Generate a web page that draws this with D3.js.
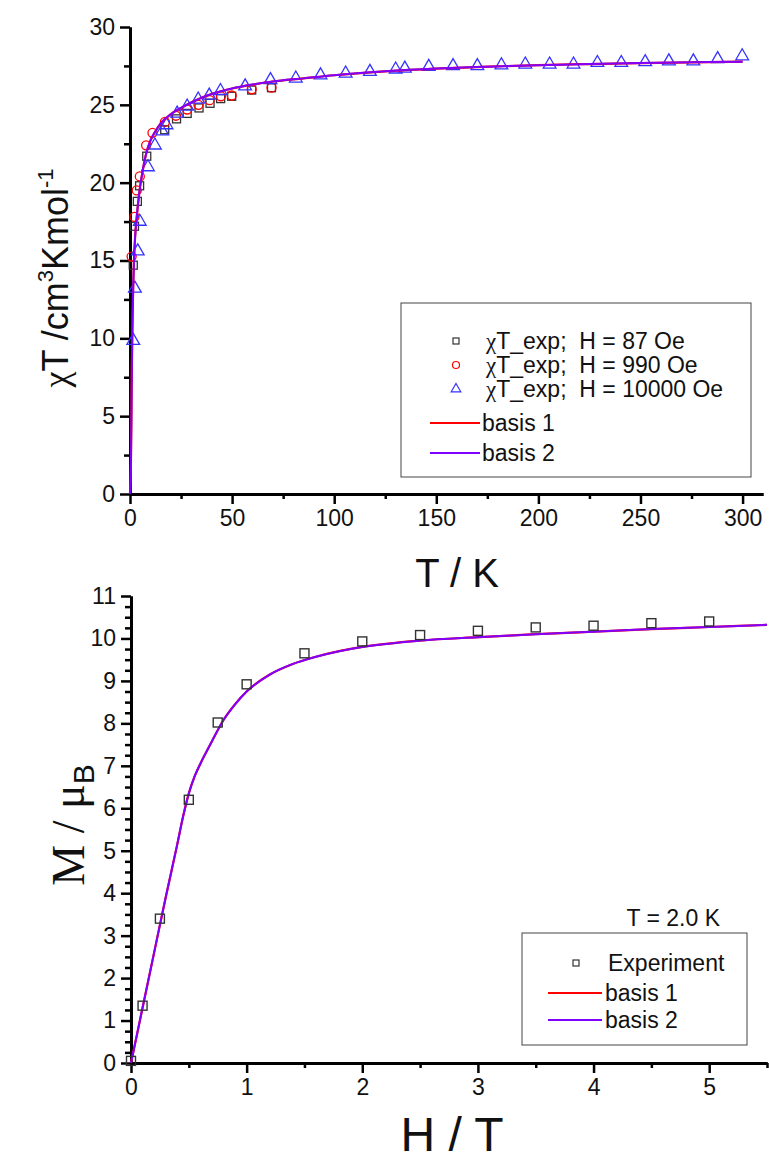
<!DOCTYPE html>
<html>
<head>
<meta charset="utf-8">
<script src="https://cdn.jsdelivr.net/npm/d3@7/dist/d3.min.js"></script>
<style>
  html, body { margin: 0; padding: 0; background: #fff; overflow: hidden; }
  svg { display: block; }
  text { font-family: "Liberation Sans", Arial, sans-serif; fill: #111; }
</style>
</head>
<body>
<svg id="chart" width="769" height="1164"></svg>
<script>
// ---- χT vs T data (T in K, χT in cm3 K mol-1) ----
const chiT87 = [
  [1.6, 14.7], [2.2, 17.2], [3.6, 18.8], [4.7, 19.8], [8.2, 21.7], [17, 23.4],
  [22.8, 24.1], [28, 24.45], [33.8, 24.8], [39.2, 25.1], [44.4, 25.4],
  [49.8, 25.55], [59.6, 25.95], [69.3, 26.1]
];
const chiT990 = [
  [0.8, 15.25], [2.2, 17.8], [3.3, 19.5], [4.8, 20.4], [7.9, 22.4], [11, 23.2],
  [17.1, 23.9], [22.5, 24.3], [28, 24.7], [33.5, 25.0], [39, 25.3], [44.5, 25.55],
  [49.8, 25.6], [59.6, 26.0], [69.3, 26.1]
];
const chiT10000 = [
  [1.6, 9.85], [2.4, 13.2], [3.8, 15.6], [4.8, 17.5], [8.8, 21.0], [12.2, 22.4],
  [15.8, 23.3], [17.9, 23.7], [23.1, 24.45], [28, 24.9], [33.4, 25.35], [38.8, 25.6],
  [44.3, 25.9], [56.4, 26.2], [68.8, 26.6], [81.2, 26.7], [93.3, 26.9], [105.6, 27.02],
  [117.5, 27.13], [130.1, 27.28], [134.6, 27.34], [146.3, 27.45], [158.2, 27.5],
  [170.1, 27.5], [181.9, 27.55], [193.6, 27.6], [205.5, 27.6], [217.2, 27.6],
  [228.9, 27.7], [240.6, 27.7], [252.3, 27.75], [263.9, 27.8], [275.9, 27.8],
  [287.8, 27.95], [299.8, 28.13]
];
const chiTBasis1 = [
  [0, 0], [0.1, 0.3], [0.3, 1.0], [0.5, 2.5], [0.7, 5], [0.9, 8], [1.1, 10], [1.3, 11.6],
  [1.6, 13.5], [2, 15.2], [2.5, 16.5], [3.3, 17.8], [4.5, 19.3], [6, 20.6], [8, 21.9],
  [10, 22.7], [12, 23.2], [15, 23.8], [20, 24.4], [25, 24.8], [30, 25.15], [35, 25.45],
  [40, 25.7], [50, 26.05], [60, 26.3], [70, 26.5], [85, 26.7], [100, 26.9], [125, 27.15],
  [150, 27.33], [175, 27.45], [200, 27.55], [225, 27.62], [250, 27.68], [275, 27.73],
  [300, 27.77]
];
const chiTBasis2 = [
  [0, 0], [0.1, 0.3], [0.3, 1.0], [0.5, 2.5], [0.7, 5], [0.9, 8], [1.1, 10], [1.3, 11.6],
  [1.6, 13.5], [2, 15.2], [2.5, 16.5], [3.3, 17.8], [4.5, 19.3], [6, 20.6], [8, 21.9],
  [10, 22.7], [12, 23.2], [15, 23.8], [20, 24.4], [25, 24.8], [30, 25.15], [35, 25.45],
  [40, 25.7], [50, 26.05], [60, 26.3], [70, 26.5], [85, 26.7], [100, 26.9], [125, 27.15],
  [150, 27.33], [175, 27.45], [200, 27.55], [225, 27.62], [250, 27.68], [275, 27.73],
  [300, 27.77]
];
const tTicks = [0, 50, 100, 150, 200, 250, 300];
const chiTicks = [0, 5, 10, 15, 20, 25, 30];

// ---- M vs H data at 2.0 K (H in T, M in μB) ----
const magExp = [
  [0.0, 0.05], [0.1, 1.35], [0.25, 3.4], [0.5, 6.2], [0.75, 8.02], [1.0, 8.92],
  [1.5, 9.65], [2.0, 9.93], [2.5, 10.08], [3.0, 10.18], [3.5, 10.26], [4.0, 10.3],
  [4.5, 10.36], [5.0, 10.4]
];
const magBasis1 = [
  [0, 0], [0.1, 1.3], [0.2, 2.6], [0.3, 3.9], [0.4, 5.15], [0.45, 5.8], [0.5, 6.35],
  [0.55, 6.75], [0.6, 7.05], [0.65, 7.32], [0.7, 7.58], [0.8, 8.08], [0.9, 8.45],
  [1.0, 8.75], [1.2, 9.15], [1.4, 9.4], [1.6, 9.57], [1.8, 9.7], [2.0, 9.8],
  [2.5, 9.95], [3.0, 10.03], [3.5, 10.1], [4.0, 10.16], [4.5, 10.22], [5.0, 10.27],
  [5.5, 10.32]
];
const magBasis2 = [
  [0, 0], [0.1, 1.3], [0.2, 2.6], [0.3, 3.9], [0.4, 5.15], [0.45, 5.8], [0.5, 6.35],
  [0.55, 6.75], [0.6, 7.05], [0.65, 7.32], [0.7, 7.58], [0.8, 8.08], [0.9, 8.45],
  [1.0, 8.75], [1.2, 9.15], [1.4, 9.4], [1.6, 9.57], [1.8, 9.7], [2.0, 9.8],
  [2.5, 9.95], [3.0, 10.03], [3.5, 10.1], [4.0, 10.16], [4.5, 10.22], [5.0, 10.27],
  [5.5, 10.32]
];
const hTicks = [0, 1, 2, 3, 4, 5];
const mTicks = [0, 1, 2, 3, 4, 5, 6, 7, 8, 9, 10, 11];

const RED = "#ff0000", PURPLE = "#7f00ff", BLUE = "#3333ff", GREY = "#333";
const svg = d3.select("#chart");

function styleAxis(g) {
  g.select(".domain").attr("stroke", "#000").attr("stroke-width", 3);
  g.selectAll(".tick line").attr("stroke", "#000").attr("stroke-width", 2.5);
  g.selectAll(".tick text").attr("font-size", 23).attr("fill", "#111")
    .attr("font-family", "'Liberation Sans', Arial, sans-serif");
}

function drawAxes(x, y, xMajor, yMajor, xMinor, yMinor) {
  const [x0] = x.range(), [y0] = y.range();
  const fmt = d3.format("d");
  // minor ticks
  svg.append("g").attr("transform", `translate(0,${y0})`)
    .call(d3.axisBottom(x).tickValues(xMinor).tickSize(5).tickFormat("").tickSizeOuter(0))
    .call(styleAxis);
  svg.append("g").attr("transform", `translate(${x0},0)`)
    .call(d3.axisLeft(y).tickValues(yMinor).tickSize(6).tickFormat("").tickSizeOuter(0))
    .call(styleAxis);
  // major ticks with labels
  svg.append("g").attr("transform", `translate(0,${y0})`)
    .call(d3.axisBottom(x).tickValues(xMajor).tickFormat(fmt).tickSize(10).tickPadding(6).tickSizeOuter(0))
    .call(styleAxis);
  svg.append("g").attr("transform", `translate(${x0},0)`)
    .call(d3.axisLeft(y).tickValues(yMajor).tickFormat(fmt).tickSize(10).tickPadding(5).tickSizeOuter(0))
    .call(styleAxis);
}

// ================= Upper panel: χT vs T =================
const x1 = d3.scaleLinear().domain([0, 310]).range([130, 763]);
const y1 = d3.scaleLinear().domain([0, 30]).range([494, 27]);

drawAxes(x1, y1, tTicks, chiTicks,
  d3.range(25, 310, 50), d3.range(2.5, 30, 5));

const line1 = d3.line().x(d => x1(d[0])).y(d => y1(d[1])).curve(d3.curveMonotoneX);

// experimental points
const pts1 = svg.append("g");
pts1.selectAll(".sq").data(chiT87).join("rect")
  .attr("x", d => x1(d[0]) - 4).attr("y", d => y1(d[1]) - 4)
  .attr("width", 8).attr("height", 8)
  .attr("fill", "none").attr("stroke", GREY).attr("stroke-width", 1.3);
pts1.selectAll(".ci").data(chiT990).join("circle")
  .attr("cx", d => x1(d[0])).attr("cy", d => y1(d[1])).attr("r", 4.5)
  .attr("fill", "none").attr("stroke", RED).attr("stroke-width", 1.3);
const tri = d3.symbol().type(d3.symbolTriangle).size(70);
pts1.selectAll(".tr").data(chiT10000).join("path")
  .attr("d", tri).attr("transform", d => `translate(${x1(d[0])},${y1(d[1])})`)
  .attr("fill", "none").attr("stroke", BLUE).attr("stroke-width", 1.3);

// model curves
svg.append("path").datum(chiTBasis1).attr("d", line1)
  .attr("fill", "none").attr("stroke", RED).attr("stroke-width", 2.2);
svg.append("path").datum(chiTBasis2).attr("d", line1)
  .attr("fill", "none").attr("stroke", PURPLE).attr("stroke-width", 2);

// axis titles
svg.append("text").attr("x", 457).attr("y", 587).attr("text-anchor", "middle")
  .attr("font-size", 40).text("T / K");

const yt1 = svg.append("text").attr("transform", "translate(68,278) rotate(-90)")
  .attr("text-anchor", "middle").attr("font-size", 36);
yt1.append("tspan").attr("font-family", "'Liberation Serif', serif").text("χ");
yt1.append("tspan").text("T /cm");
yt1.append("tspan").attr("font-size", 22).attr("dy", -15).text("3");
yt1.append("tspan").attr("dy", 15).text("Kmol");
yt1.append("tspan").attr("font-size", 22).attr("dy", -15).text("-1");

// legend
svg.append("rect").attr("x", 401).attr("y", 303).attr("width", 350).attr("height", 174)
  .attr("fill", "#fff").attr("stroke", "#444").attr("stroke-width", 1);
const leg1 = [
  { kind: "sq", label: "87" }, { kind: "ci", label: "990" }, { kind: "tr", label: "10000" }
];
leg1.forEach((d, i) => {
  const cy = 341 + i * 24;
  if (d.kind === "sq") {
    svg.append("rect").attr("x", 453).attr("y", cy - 3).attr("width", 6).attr("height", 6)
      .attr("fill", "none").attr("stroke", GREY).attr("stroke-width", 1.2);
  } else if (d.kind === "ci") {
    svg.append("circle").attr("cx", 456).attr("cy", cy).attr("r", 3.5)
      .attr("fill", "none").attr("stroke", RED).attr("stroke-width", 1.2);
  } else {
    svg.append("path").attr("d", d3.symbol().type(d3.symbolTriangle).size(40))
      .attr("transform", `translate(456,${cy})`)
      .attr("fill", "none").attr("stroke", BLUE).attr("stroke-width", 1.2);
  }
  const t = svg.append("text").attr("x", 486).attr("y", cy + 8).attr("font-size", 23);
  t.append("tspan").attr("font-family", "'Liberation Serif', serif").text("χ");
  t.append("tspan").attr("xml:space", "preserve").text(`T_exp;  H = ${d.label} Oe`);
});
[["basis 1", RED], ["basis 2", PURPLE]].forEach((d, i) => {
  const cy = 423 + i * 30;
  svg.append("line").attr("x1", 430).attr("x2", 480).attr("y1", cy).attr("y2", cy)
    .attr("stroke", d[1]).attr("stroke-width", 2);
  svg.append("text").attr("x", 482).attr("y", cy + 8).attr("font-size", 23).text(d[0]);
});

// ================= Lower panel: M vs H =================
const x2 = d3.scaleLinear().domain([0, 5.5]).range([131, 767]);
const y2 = d3.scaleLinear().domain([0, 11]).range([1063, 596]);

drawAxes(x2, y2, hTicks, mTicks,
  d3.range(0.5, 5.6, 1), d3.range(0, 11.01, 0.25).filter(v => Math.abs(v - Math.round(v)) > 1e-6));

const line2 = d3.line().x(d => x2(d[0])).y(d => y2(d[1])).curve(d3.curveMonotoneX);
svg.append("path").datum(magBasis1).attr("d", line2)
  .attr("fill", "none").attr("stroke", RED).attr("stroke-width", 2.2);
svg.append("path").datum(magBasis2).attr("d", line2)
  .attr("fill", "none").attr("stroke", PURPLE).attr("stroke-width", 2);

svg.append("g").selectAll("rect").data(magExp).join("rect")
  .attr("x", d => x2(d[0]) - 4.5).attr("y", d => y2(d[1]) - 4.5)
  .attr("width", 9).attr("height", 9)
  .attr("fill", "none").attr("stroke", GREY).attr("stroke-width", 1.4);

svg.append("text").attr("x", 452).attr("y", 1151).attr("text-anchor", "middle")
  .attr("font-size", 48).text("H / T");

const yt2 = svg.append("text").attr("transform", "translate(84,825) rotate(-90)")
  .attr("text-anchor", "middle").attr("font-size", 46);
yt2.append("tspan").attr("font-family", "'Liberation Serif', serif").text("M / ");
yt2.append("tspan").attr("font-family", "'Liberation Serif', serif").text("μ");
yt2.append("tspan").attr("font-size", 30).attr("dy", 10).text("B");

svg.append("text").attr("x", 720).attr("y", 926).attr("text-anchor", "end")
  .attr("font-size", 23).text("T = 2.0 K");

// legend
svg.append("rect").attr("x", 522).attr("y", 933).attr("width", 225).attr("height", 112)
  .attr("fill", "#fff").attr("stroke", "#444").attr("stroke-width", 1);
svg.append("rect").attr("x", 573).attr("y", 960).attr("width", 6).attr("height", 6)
  .attr("fill", "none").attr("stroke", GREY).attr("stroke-width", 1.2);
svg.append("text").attr("x", 608).attr("y", 971).attr("font-size", 23).text("Experiment");
[["basis 1", RED], ["basis 2", PURPLE]].forEach((d, i) => {
  const cy = 993 + i * 27;
  svg.append("line").attr("x1", 548).attr("x2", 602).attr("y1", cy).attr("y2", cy)
    .attr("stroke", d[1]).attr("stroke-width", 2);
  svg.append("text").attr("x", 605).attr("y", cy + 8).attr("font-size", 23).text(d[0]);
});
</script>
</body>
</html>
